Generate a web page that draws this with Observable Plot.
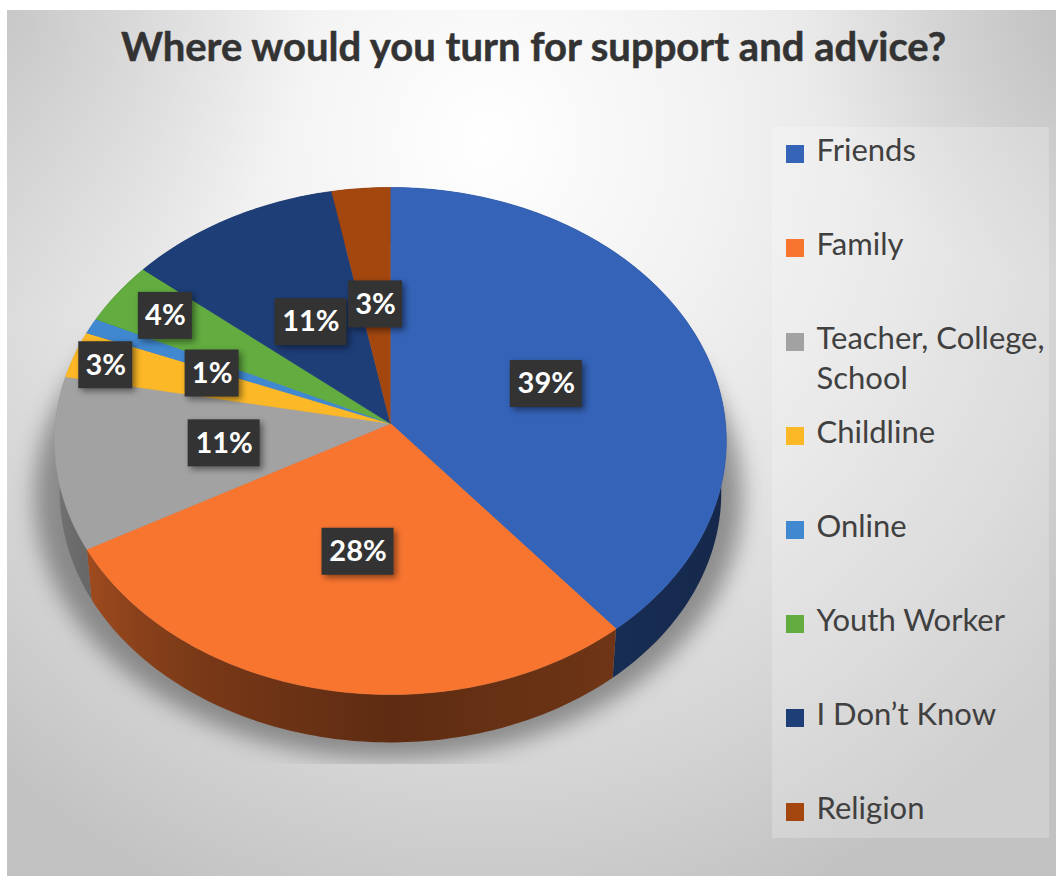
<!DOCTYPE html>
<html>
<head>
<meta charset="utf-8">
<title>Where would you turn for support and advice?</title>
<script src="https://cdn.jsdelivr.net/npm/d3@7"></script>
<script src="https://cdn.jsdelivr.net/npm/@observablehq/plot@0.6"></script>
<style>
  html, body { margin: 0; padding: 0; background: #fff; }
  svg { display: block; }
</style>
</head>
<body>
<div id="chart"></div>
<script>
const chartTitle = "Where would you turn for support and advice?";
const categories = ["Friends", "Family", "Teacher, College,\nSchool", "Childline", "Online", "Youth Worker", "I Don\u2019t Know", "Religion"];
const shares = [39, 28, 11, 3, 1, 4, 11, 3];
const sliceColors = ["#3563B8", "#F87530", "#A2A2A2", "#FDB827", "#4088D0", "#62AC40", "#1E3E78", "#A3470F"];
// How far along each slice's middle ray its label sits (0 = hub, 1 = rim).
const labelReach = [0.496, 0.5, 0.5, 0.895, 0.576, 0.82, 0.48, 0.49];
// Small turn, in degrees, off that middle ray where slices crowd their labels.
const labelTurn = [1.2, 0, 0, -1, -3, 0, 0, 0];

const W = 1056, H = 876;
const FONT = "Lato, Carlito, sans-serif";

// Tilted-disc geometry: a perspective map of the unit circle, hub off the ellipse centre.
const hub = {x: 390, y: 423}, radiusX = 335, radiusY = 252.3, tilt = 0.069, wallDepth = 52;

function project(deg, reach = 1, lower = false) {
  const t = deg * Math.PI / 180;
  const u = reach * Math.sin(t), v = -reach * Math.cos(t);
  const w = 1 - tilt * v;
  const a = lower ? radiusX * 0.985 : radiusX;
  const b = lower ? radiusY * 0.985 : radiusY;
  return {x: hub.x + a * u / w, y: hub.y + (lower ? wallDepth : 0) + b * v / w};
}

const total = d3.sum(shares);
let running = 0;
const slices = categories.map((name, i) => {
  const start = running / total * 360;
  running += shares[i];
  return {name, i, start, end: running / total * 360, share: shares[i]};
});

function arcAngles(a, b) {
  const n = Math.max(1, Math.ceil(b - a));
  return d3.range(n + 1).map(k => a + (b - a) * k / n);
}

// Top face outlines.
const faces = slices.flatMap(s => [
  {name: s.name, ...hub},
  ...arcAngles(s.start, s.end).map(t => ({name: s.name, ...project(t)}))
]);

// One wall polygon per slice: its upper rim forward, its lower rim back.
const wallPolygons = slices.map(s => {
  const angles = arcAngles(s.start, s.end);
  return [...angles.map(t => project(t)), ...angles.slice().reverse().map(t => project(t, 1, true))];
});

// Walls darken with the direction they face; the gradient runs across the disc's width.
const wallShade = d3.scaleLinear().domain([90, 140, 180, 215, 241, 270]).range([.62, .55, .62, .5, .36, .24]);
const gradientLeft = project(270).x, gradientRight = project(90).x;

function wallGradients() {
  const ns = "http://www.w3.org/2000/svg";
  const defs = document.createElementNS(ns, "defs");
  slices.forEach(s => {
    const g = document.createElementNS(ns, "linearGradient");
    g.setAttribute("id", `wall-${s.i}`);
    g.setAttribute("gradientUnits", "userSpaceOnUse");
    g.setAttribute("x1", gradientLeft);
    g.setAttribute("x2", gradientRight);
    g.setAttribute("y1", 0);
    g.setAttribute("y2", 0);
    d3.range(270, 89, -5).forEach(t => {
      const stop = document.createElementNS(ns, "stop");
      stop.setAttribute("offset", (project(t).x - gradientLeft) / (gradientRight - gradientLeft));
      stop.setAttribute("stop-color", d3.interpolateRgb(sliceColors[s.i], "#000")(wallShade(t)));
      g.appendChild(stop);
    });
    defs.appendChild(g);
  });
  return defs;
}

// Soft shadow under the disc.
const shadowOutline = d3.range(0, 361, 2).map(t => {
  const r = t * Math.PI / 180;
  return {x: hub.x - 2 + 354 * Math.sin(r), y: 496 - 262 * Math.cos(r)};
});

const labels = slices.map(s => {
  const p = project((s.start + s.end) / 2 + labelTurn[s.i], labelReach[s.i]);
  const text = `${s.share}%`;
  return {text, x: p.x, y: p.y, half: text.length > 2 ? 36 : 27};
});

const rowY = i => 151 + i * 94;
const legendRows = categories.map((name, i) => ({name, y: rowY(i)}));

function clippedBelow(limit) {
  return function (index, scales, values, dimensions, context, next) {
    const g = next(index, scales, values, dimensions, context);
    const ns = "http://www.w3.org/2000/svg";
    const outer = document.createElementNS(ns, "g");
    const clip = document.createElementNS(ns, "clipPath");
    clip.setAttribute("id", "shadow-clip");
    const rect = document.createElementNS(ns, "rect");
    rect.setAttribute("x", 0); rect.setAttribute("y", 0);
    rect.setAttribute("width", W); rect.setAttribute("height", limit);
    clip.appendChild(rect);
    outer.appendChild(clip);
    outer.setAttribute("clip-path", "url(#shadow-clip)");
    outer.appendChild(g);
    return outer;
  };
}

const backdrop = [
  "radial-gradient(circle 300px at 7px 10px, rgba(150,150,150,.3), rgba(150,150,150,0))",
  "radial-gradient(circle 260px at 1056px 10px, rgba(150,150,150,.3), rgba(150,150,150,0))",
  "radial-gradient(ellipse 760px 820px at 480px 130px, #ffffff 0%, #f2f2f2 30%, #e4e4e4 55%, #d4d4d4 78%, #c2c2c2 100%)"
].join(",");

const chart = Plot.plot({
  width: W,
  height: H,
  margin: 0,
  x: {domain: [0, W], range: [0, W], axis: null},
  y: {domain: [0, H], range: [0, H], axis: null},
  color: {domain: categories, range: sliceColors},
  style: {
    background: backdrop,
    backgroundSize: `${W - 7}px ${H - 10}px`,
    backgroundPosition: "7px 10px",
    backgroundRepeat: "no-repeat",
    display: "block"
  },
  marks: [
    wallGradients,
    // Legend panel
    Plot.rect([0], {x1: () => 772, x2: () => 1049, y1: () => 127, y2: () => 838, fill: "#fff", fillOpacity: 0.22}),
    // Shadow
    Plot.line(shadowOutline, {x: "x", y: "y", fill: "#5a5a5a", stroke: null, fillOpacity: 0.62, imageFilter: "blur(11px)", render: clippedBelow(764)}),
    // Walls, then the top face
    ...slices.map(s => Plot.line(wallPolygons[s.i], {x: "x", y: "y", fill: `url(#wall-${s.i})`, stroke: null})),
    Plot.line(faces, {x: "x", y: "y", fill: "name", stroke: "name", strokeWidth: 0.6}),
    // Value labels
    Plot.rect(labels, {
      x1: d => d.x - d.half, x2: d => d.x + d.half,
      y1: d => d.y - 23.5, y2: d => d.y + 23.5,
      fill: "#333333",
      imageFilter: "drop-shadow(3px 3px 3px rgba(0,0,0,.45))"
    }),
    Plot.text(labels, {x: "x", y: "y", text: "text", fill: "#fff", fontFamily: FONT, fontWeight: 700, fontSize: 29, lineAnchor: "middle"}),
    // Title
    Plot.text([chartTitle], {x: () => 533, y: () => 48, text: d => d, fill: "#333333", stroke: "#333333", strokeWidth: 0.5, fontFamily: FONT, fontWeight: 700, fontSize: 40, lineAnchor: "middle"}),
    // Legend
    Plot.rect(legendRows, {x1: () => 786, x2: () => 804, y1: d => d.y - 6, y2: d => d.y + 12, fill: "name"}),
    Plot.text(legendRows, {
      x: () => 816, y: d => d.y - 20, text: "name", fill: "#404040", fontFamily: FONT, fontSize: 31,
      textAnchor: "start", lineAnchor: "top", lineHeight: 1.32
    })
  ]
});
document.getElementById("chart").appendChild(chart);
</script>
</body>
</html>
